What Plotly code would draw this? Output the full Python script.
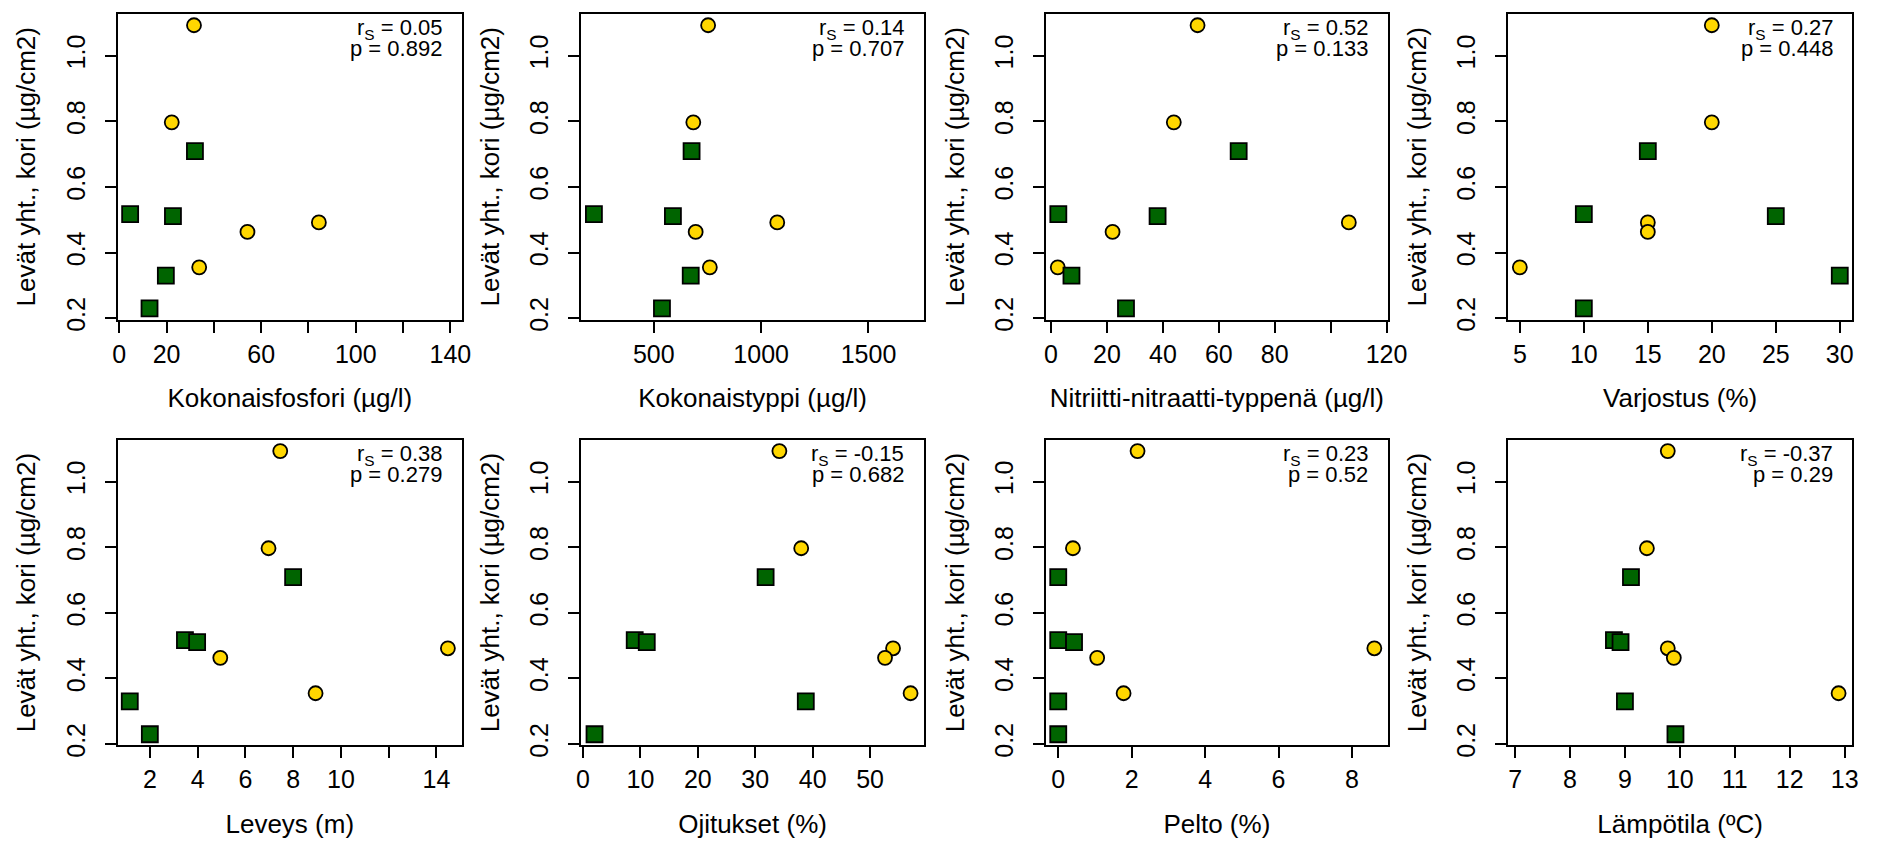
import plotly.graph_objects as go

# ---- response variable (same for every panel) ----
y_label = "Levät yht., kori (µg/cm2)"
y_circle = [1.093, 0.797, 0.492, 0.463, 0.355]   # yellow circles
y_square = [0.709, 0.517, 0.511, 0.330, 0.230]   # green squares
y_tickvals = [0.2, 0.4, 0.6, 0.8, 1.0]
y_ticktext = ["0.2", "0.4", "0.6", "0.8", "1.0"]

# ---- explanatory variables: x values (circles, squares) ----
fosfori_circle = [31.6, 22.2, 84.4, 54.2, 33.8]
fosfori_square = [32.0, 4.6, 22.7, 19.7, 12.8]

typpi_circle = [753, 684, 1075, 695, 761]
typpi_square = [676, 221, 589, 672, 538]

nitriitti_circle = [52.4, 43.9, 106.5, 22.0, 2.4]
nitriitti_square = [67.1, 2.6, 38.1, 7.3, 26.8]

varjostus_circle = [20, 20, 15, 15, 5]
varjostus_square = [15, 10, 25, 30, 10]

leveys_circle = [7.46, 6.97, 14.48, 4.95, 8.94]
leveys_square = [8.0, 3.47, 3.98, 1.16, 2.0]

ojitukset_circle = [34.2, 38.0, 54.0, 52.6, 57.05]
ojitukset_square = [31.8, 9.0, 11.1, 38.8, 2.0]

pelto_circle = [2.16, 0.40, 8.61, 1.06, 1.78]
pelto_square = [0.0, 0.0, 0.43, 0.0, 0.0]

lampotila_circle = [9.78, 9.40, 9.78, 9.89, 12.89]
lampotila_square = [9.11, 8.80, 8.92, 9.00, 9.92]

# ---- labels, statistics, ticks ----
x_titles = ["Kokonaisfosfori (µg/l)", "Kokonaistyppi (µg/l)",
            "Nitriitti-nitraatti-typpenä (µg/l)", "Varjostus (%)",
            "Leveys (m)", "Ojitukset (%)", "Pelto (%)", "Lämpötila (ºC)"]
r_s = ["0.05", "0.14", "0.52", "0.27", "0.38", "-0.15", "0.23", "-0.37"]
p_vals = ["0.892", "0.707", "0.133", "0.448", "0.279", "0.682", "0.52", "0.29"]

x_tickvals = [
    [0, 20, 40, 60, 80, 100, 120, 140],
    [500, 1000, 1500],
    [0, 20, 40, 60, 80, 100, 120],
    [5, 10, 15, 20, 25, 30],
    [2, 4, 6, 8, 10, 12, 14],
    [0, 10, 20, 30, 40, 50],
    [0, 2, 4, 6, 8],
    [7, 8, 9, 10, 11, 12, 13],
]
x_ticktext = [
    ["0", "20", "", "60", "", "100", "", "140"],
    ["500", "1000", "1500"],
    ["0", "20", "40", "60", "80", "", "120"],
    ["5", "10", "15", "20", "25", "30"],
    ["2", "4", "6", "8", "10", "", "14"],
    ["0", "10", "20", "30", "40", "50"],
    ["0", "2", "4", "6", "8"],
    ["7", "8", "9", "10", "11", "12", "13"],
]

circles = [fosfori_circle, typpi_circle, nitriitti_circle, varjostus_circle,
           leveys_circle, ojitukset_circle, pelto_circle, lampotila_circle]
squares = [fosfori_square, typpi_square, nitriitti_square, varjostus_square,
           leveys_square, ojitukset_square, pelto_square, lampotila_square]

# ---- layout geometry (axis ranges / panel placement) ----
x_ranges = [[-0.7, 144.9], [162.6, 1757.6], [-1.76, 120.35], [4.07, 30.98],
            [0.65, 15.07], [-0.29, 59.35], [-0.33, 8.97], [6.87, 13.14]]
y_range = [0.196, 1.1275]
W, H = 1888, 848
col_px = [(106, 455), (576, 923), (1047, 1393), (1515, 1864)]
row_px = [(6, 316), (438, 748)]

FONT = "Liberation Sans, Arial, Helvetica, sans-serif"
YELLOW = "#FFD700"
GREEN = "#006400"

fig = go.Figure()
layout = dict(
    width=W, height=H,
    margin=dict(l=0, r=0, t=0, b=0),
    paper_bgcolor="white", plot_bgcolor="white",
    showlegend=False,
    font=dict(family=FONT, color="black"),
    annotations=[],
)

for i in range(8):
    r, c = divmod(i, 4)
    sfx = "" if i == 0 else str(i + 1)
    xa, ya = "x" + sfx, "y" + sfx
    x0, x1 = col_px[c]
    t0, t1 = row_px[r]

    fig.add_trace(go.Scatter(
        x=circles[i], y=y_circle, mode="markers", xaxis=xa, yaxis=ya,
        marker=dict(symbol="circle", size=14, color=YELLOW,
                    line=dict(color="black", width=1.8)),
        cliponaxis=False,
    ))
    fig.add_trace(go.Scatter(
        x=squares[i], y=y_square, mode="markers", xaxis=xa, yaxis=ya,
        marker=dict(symbol="square", size=16, color=GREEN,
                    line=dict(color="black", width=1.8)),
        cliponaxis=False,
    ))

    layout["xaxis" + sfx] = dict(
        domain=[x0 / W, x1 / W], anchor=ya, range=x_ranges[i],
        showgrid=False, zeroline=False,
        showline=True, mirror=True, linecolor="black", linewidth=2,
        ticks="outside", ticklen=11, tickwidth=1.6, tickcolor="black",
        tickmode="array", tickvals=x_tickvals[i], ticktext=x_ticktext[i],
        tickfont=dict(size=25, family=FONT, color="black"),
        title=dict(text=x_titles[i], font=dict(size=26, family=FONT, color="black"),
                   standoff=22),
    )
    layout["yaxis" + sfx] = dict(
        domain=[1 - t1 / H, 1 - t0 / H], anchor=xa, range=y_range,
        showgrid=False, zeroline=False,
        showline=True, mirror=True, linecolor="black", linewidth=2,
        ticks="outside", ticklen=11, tickwidth=1.6, tickcolor="black",
        tickmode="array", tickvals=y_tickvals, ticktext=y_ticktext,
        tickangle=-90, ticklabelstandoff=10,
        tickfont=dict(size=25, family=FONT, color="black"),
        title=dict(text=y_label, font=dict(size=26, family=FONT, color="black"),
                   standoff=18),
    )
    layout["annotations"].append(dict(
        xref=xa + " domain", yref=ya + " domain",
        x=1 - 18 / (x1 - x0), y=1 - 15 / (t1 - t0),
        xanchor="right", yanchor="middle", showarrow=False,
        text="r<sub>S</sub> = " + r_s[i],
        font=dict(size=22, family=FONT, color="black"),
    ))
    layout["annotations"].append(dict(
        xref=xa + " domain", yref=ya + " domain",
        x=1 - 18 / (x1 - x0), y=1 - 35 / (t1 - t0),
        xanchor="right", yanchor="middle", showarrow=False,
        text="p = " + p_vals[i],
        font=dict(size=22, family=FONT, color="black"),
    ))

fig.update_layout(**layout)
fig.write_html("out.html")
